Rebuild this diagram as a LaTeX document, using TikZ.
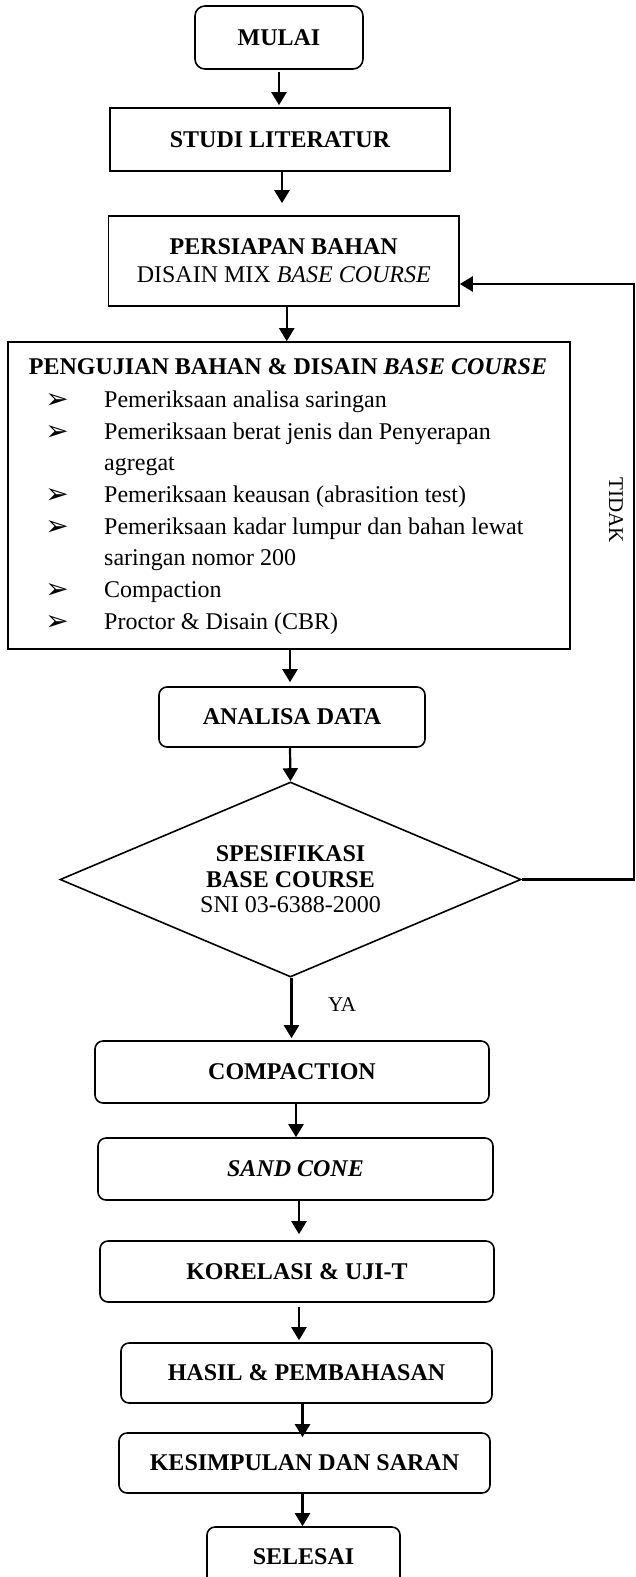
\documentclass[tikz,border=0pt]{standalone}
\usepackage{fontspec}
\setmainfont{Liberation Serif}
\newfontfamily\dejavu{DejaVu Sans}
\usetikzlibrary{shapes.geometric,arrows.meta,calc}
\begin{document}
\begin{tikzpicture}[x=1pt,y=-1pt,
  every node/.style={font=\fontsize{24}{28}\selectfont, inner sep=0pt},
  sq/.style={draw, line width=1.6pt, align=center},
  rnd/.style={sq, rounded corners=8pt},
  arr/.style={line width=2.2pt, -{Triangle[length=13pt,width=15pt]}},
  item/.style={anchor=base west},
  bul/.style={font=\dejavu\fontsize{28}{28}\selectfont},
  side/.style={font=\fontsize{21}{24}\selectfont}]
\useasboundingbox (0,0) rectangle (635,1577);
\clip (0,0) rectangle (635,1577);

\node[rnd, rounded corners=10pt, minimum width=168pt, minimum height=63pt] (mulai) at (279,37.5) {\bfseries MULAI};
\node[sq, minimum width=340pt, minimum height=63pt] (studi) at (280,139.5) {\bfseries STUDI LITERATUR};
\node[sq, minimum width=350.5pt, minimum height=90pt] (pers) at (283.75,261) {\bfseries PERSIAPAN BAHAN\\ DISAIN MIX \textit{BASE COURSE}};
\node[sq, minimum width=562pt, minimum height=307pt] (uji) at (289,495.5) {};
\node (uhead) at (288,367) {\bfseries PENGUJIAN BAHAN \& DISAIN \textit{BASE COURSE}};

\node[bul] (b1) at (57,401) {➢};
\node[bul] (b2) at (57,433) {➢};
\node[bul] (b4) at (57,496) {➢};
\node[bul] (b5) at (57,528) {➢};
\node[bul] (b7) at (57,591) {➢};
\node[bul] (b8) at (57,623) {➢};
\node[item] (l1) at (104,407) {Pemeriksaan analisa saringan};
\node[item] (l2) at (104,439) {Pemeriksaan berat jenis dan Penyerapan};
\node[item] (l3) at (104,470) {agregat};
\node[item] (l4) at (104,502) {Pemeriksaan keausan (abrasition test)};
\node[item] (l5) at (104,534) {Pemeriksaan kadar lumpur dan bahan lewat};
\node[item] (l6) at (104,565) {saringan nomor 200};
\node[item] (l7) at (104,597) {Compaction};
\node[item] (l8) at (104,629) {Proctor \& Disain (CBR)};

\node[side, rotate=-90] (tidak) at (616,510) {TIDAK};

\node[rnd, minimum width=266pt, minimum height=60pt] (anal) at (292,717) {\bfseries ANALISA DATA};
\node[draw, line width=1.6pt, diamond, aspect=2.36, inner sep=0pt, minimum width=461pt, minimum height=195pt, align=center,
      font=\fontsize{24}{25.5}\selectfont] (dec) at (290.5,879.5) {\bfseries SPESIFIKASI\\ \bfseries BASE COURSE\\ SNI 03-6388-2000};
\node[side] (ya) at (342,1005) {YA};

\node[rnd, minimum width=394pt, minimum height=62pt] (comp) at (292,1072) {\bfseries COMPACTION};
\node[rnd, minimum width=395pt, minimum height=62pt] (sand) at (295.5,1169) {\bfseries\itshape SAND CONE};
\node[rnd, minimum width=394pt, minimum height=61pt] (kor) at (297,1271.5) {\bfseries KORELASI \& UJI-T};
\node[rnd, minimum width=371pt, minimum height=60pt] (hasil) at (306.5,1373) {\bfseries HASIL \& PEMBAHASAN};
\node[rnd, minimum width=371pt, minimum height=60pt] (kes) at (304.5,1463) {\bfseries KESIMPULAN DAN SARAN};
\node[rnd, minimum width=193pt, minimum height=60pt] (sel) at (303.5,1557) {\bfseries SELESAI};

\draw[arr, shorten <=2pt, shorten >=2pt] (mulai.south) -- (mulai.south |- studi.north);
\draw[arr, shorten >=12pt] ([xshift=2pt]studi.south) -- ([xshift=2pt]studi.south |- pers.north);
\draw[arr] ([xshift=3pt]pers.south) -- ([xshift=3pt]pers.south |- uji.north);
\draw[arr, shorten >=4pt] ([xshift=1pt]uji.south) -- ([xshift=1pt]uji.south |- anal.north);
\draw[arr] ([xshift=-2pt]anal.south) -- (dec.north);
\draw[arr, shorten >=2pt] ([xshift=1pt]dec.south) -- ([xshift=1pt]dec.south |- comp.north);
\draw[arr] ([xshift=4pt]comp.south) -- ([xshift=4pt]comp.south |- sand.north);
\draw[arr, shorten >=6pt] ([xshift=3.5pt]sand.south) -- ([xshift=3.5pt]sand.south |- kor.north);
\draw[arr, shorten <=4pt, shorten >=2pt] ([xshift=2pt]kor.south) -- ([xshift=2pt]kor.south |- hasil.north);
\draw[arr, shorten >=-5pt] ([xshift=-4pt]hasil.south) -- ([xshift=-4pt]hasil.south |- kes.north);
\draw[arr] ([xshift=-2pt]kes.south) -- ([xshift=-2pt]kes.south |- sel.north);

\coordinate (fb) at (634,284);
\draw[arr] (dec.east) -- (dec.east -| fb) -- (fb) -- (fb -| pers.east);
\end{tikzpicture}
\end{document}
